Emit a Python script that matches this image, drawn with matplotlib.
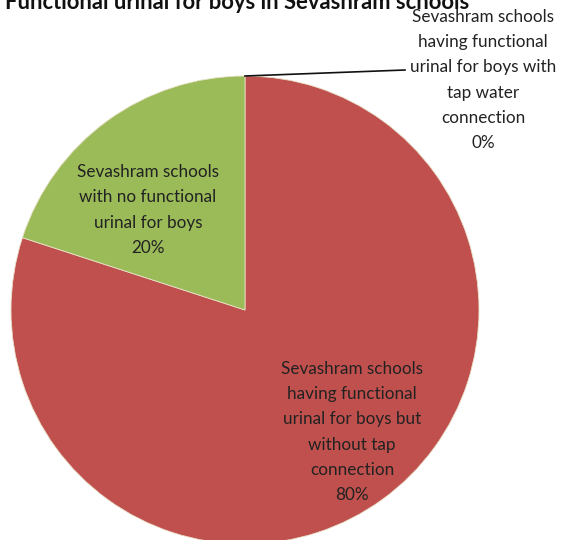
import matplotlib
matplotlib.use("Agg")
from matplotlib import pyplot as plt

# Share of Sevashram schools by urinal facility for boys
labels = [
    "Sevashram schools\nhaving functional\nurinal for boys with\ntap water\nconnection",
    "Sevashram schools\nhaving functional\nurinal for boys but\nwithout tap\nconnection",
    "Sevashram schools\nwith no functional\nurinal for boys",
]
shares = [0, 80, 20]
colors = ["#4F81BD", "#C0504D", "#9BBB59"]
title = "Functional urinal for boys in Sevashram schools"

plt.rcParams['font.family'] = ['Lato', 'DejaVu Sans']

fig = plt.figure(figsize=(5.61, 5.4), dpi=100)
ax = fig.add_axes([0, 0, 1, 1])

# pie in pixel units, slightly cut off at the bottom edge
cx, cy, r = 245, 230, 234
wedges, _ = ax.pie(shares, colors=colors, startangle=90, counterclock=False,
                   center=(cx, cy), radius=r, frame=True,
                   wedgeprops=dict(edgecolor='#e8e0c8', linewidth=0.6))
ax.set_xlim(0, 561)
ax.set_ylim(0, 540)
ax.set_aspect('equal')
ax.axis('off')

txt = '#222222'
fs = 12.3
ls = 1.7
# labels with percentages
ax.text(352, 540 - 432, labels[1] + "\n%d%%" % shares[1], ha='center', va='center',
        fontsize=fs, color=txt, linespacing=ls)
ax.text(148, 540 - 210, labels[2] + "\n%d%%" % shares[2], ha='center', va='center',
        fontsize=fs, color=txt, linespacing=ls)
ax.text(483, 540 - 80, labels[0] + "\n%d%%" % shares[0], ha='center', va='center',
        fontsize=fs, color=txt, linespacing=ls)

# leader line for the empty slice
ax.plot([cx, 405], [cy + r, 540 - 70], color='#111111', linewidth=1.2)

ax.text(5, 540 - 9, title, ha='left', va='baseline', fontsize=15.8,
        fontweight='bold', color='#111111')

fig.savefig('out.png', dpi=100)
